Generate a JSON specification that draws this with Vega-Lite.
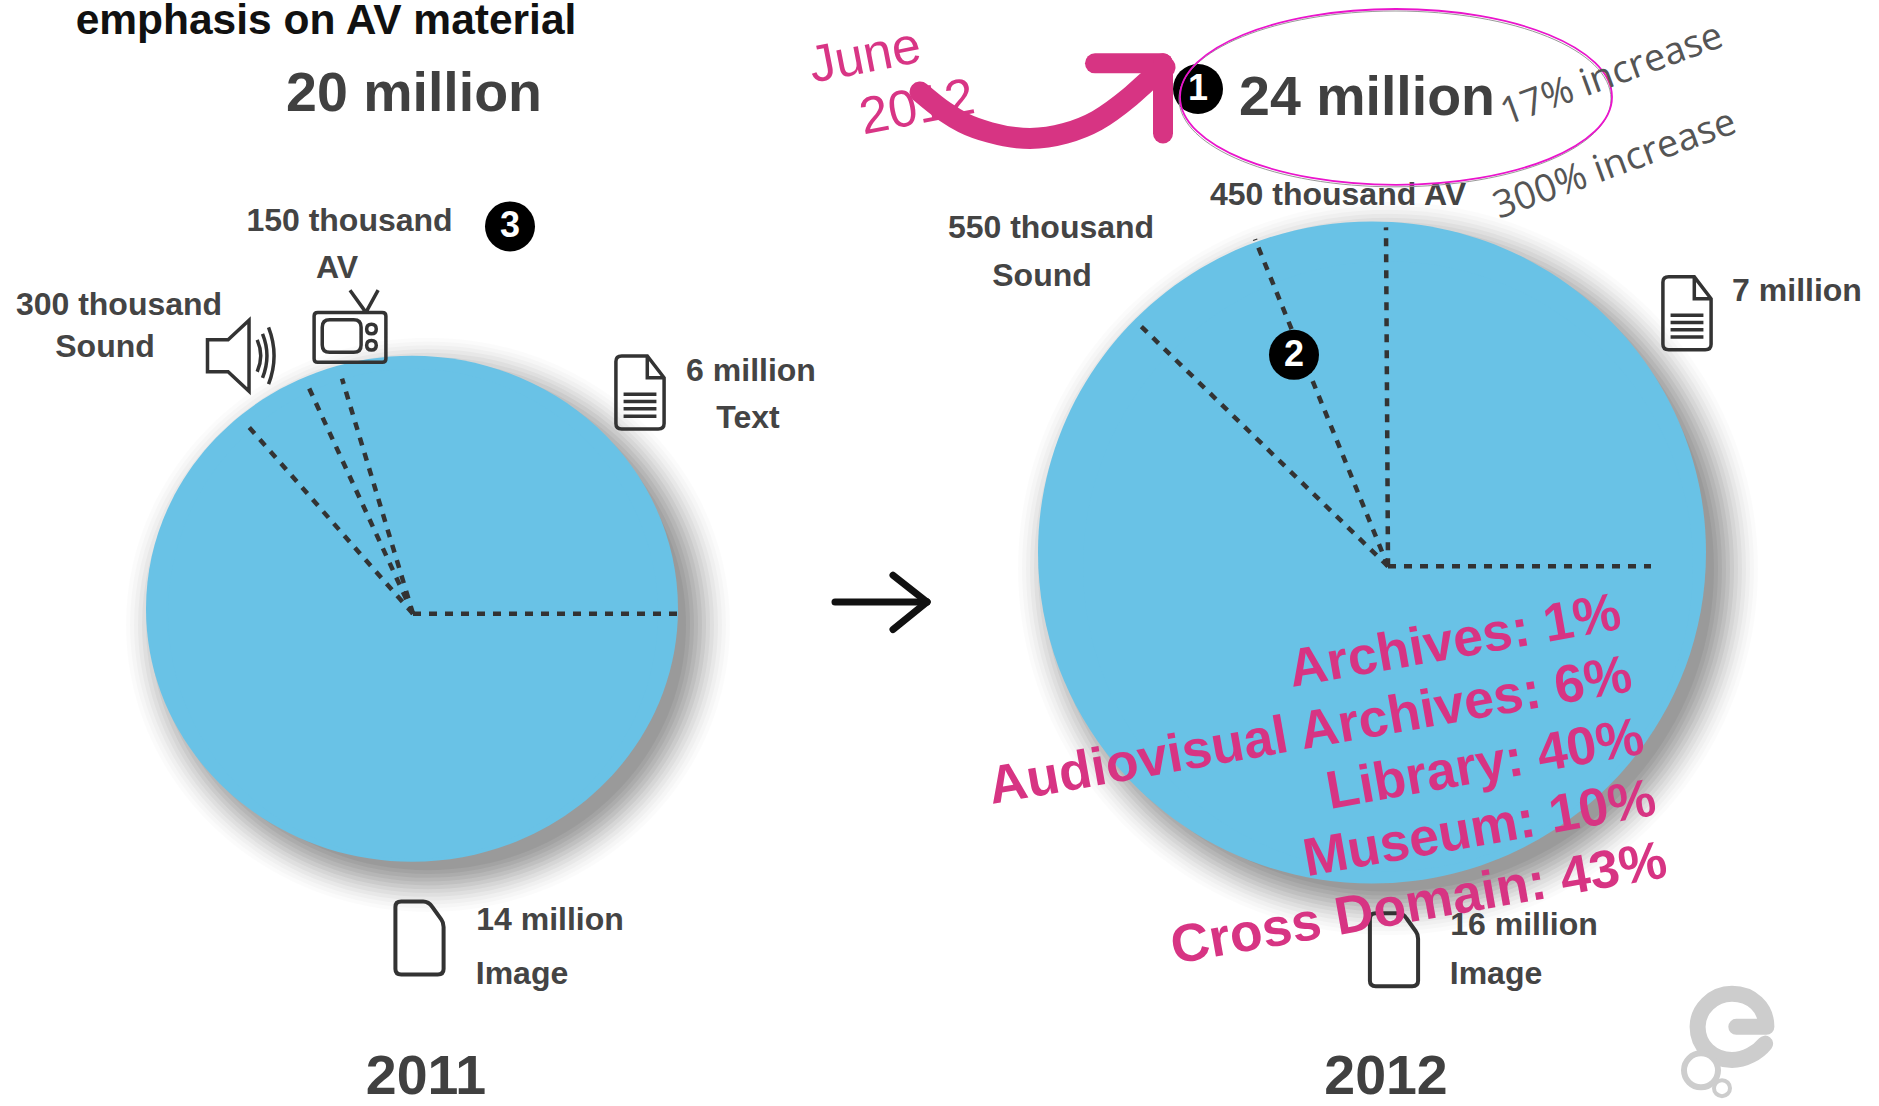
{"$schema":"https://vega.github.io/schema/vega-lite/v6.json","width":1879,"height":1106,"padding":0,"autosize":{"type":"fit","contains":"padding"},"background":"white","config":{"view":{"stroke":null}},
"datasets":{
"pies":[{"year":2011,"x":412,"y":610},{"year":2012,"x":1372,"y":553}],
"slices":[
{"year":2011,"segment":"Text","x":413,"y":615,"start":-16.6,"end":90},{"year":2011,"segment":"Image","x":413,"y":615,"start":90,"end":319},{"year":2011,"segment":"Sound","x":413,"y":615,"start":319,"end":335.5},{"year":2011,"segment":"AV","x":413,"y":615,"start":335.5,"end":343.4},
{"year":2012,"segment":"Text","x":1388,"y":567,"start":0,"end":90},{"year":2012,"segment":"Image","x":1388,"y":567,"start":90,"end":314.5},{"year":2012,"segment":"Sound","x":1388,"y":567,"start":314.5,"end":338.1},{"year":2012,"segment":"AV","x":1388,"y":567,"start":338.1,"end":360}],
"dashes":[
{"x":413,"y":615,"xe":677,"ye":615},{"x":413,"y":615,"xe":342,"ye":377},{"x":413,"y":615,"xe":306,"ye":380},{"x":413,"y":615,"xe":248,"ye":425},
{"x":1388,"y":567,"xe":1651,"ye":567},{"x":1388,"y":567,"xe":1386,"ye":224},{"x":1388,"y":567,"xe":1255,"ye":236},{"x":1388,"y":567,"xe":1141,"ye":324}],
"title":[{"t":"emphasis on AV material","x":326,"y":28}],
"big":[{"t":"20 million","x":414,"y":106},{"t":"24 million","x":1367,"y":110},{"t":"2011","x":426,"y":1101},{"t":"2012","x":1386,"y":1101}],
"labels":[{"t":"150 thousand","x":349.5,"y":228},{"t":"AV","x":337,"y":275},{"t":"300 thousand","x":119,"y":313},{"t":"Sound","x":105,"y":355},{"t":"6 million","x":751,"y":379},{"t":"Text","x":748,"y":427},{"t":"14 million","x":550,"y":935},{"t":"Image","x":522,"y":990},{"t":"450 thousand AV","x":1338,"y":201},{"t":"550 thousand","x":1051,"y":235},{"t":"Sound","x":1042,"y":283},{"t":"7 million","x":1797,"y":299},{"t":"16 million","x":1524,"y":940},{"t":"Image","x":1496,"y":990}],
"badges":[{"t":"1","x":1198,"y":84},{"t":"2","x":1294,"y":353},{"t":"3","x":510,"y":223}],
"june":[{"t":"June","x":865,"y":51},{"t":"2012","x":917,"y":103}],
"increase":[{"t":"17% increase","x":1612,"y":70},{"t":"300% increase","x":1615,"y":161}],
"shares":[{"t":"Archives: 1%","x":1623,"y":630},{"t":"Audiovisual Archives: 6%","x":1634,"y":693},{"t":"Library: 40%","x":1646,"y":756},{"t":"Museum: 10%","x":1658,"y":818},{"t":"Cross Domain: 43%","x":1669,"y":881}],
"pinkcurve":[{"x":920,"y":87},{"x":945,"y":107},{"x":963,"y":118},{"x":990,"y":128},{"x":1030,"y":134},{"x":1065,"y":129},{"x":1097,"y":116},{"x":1130,"y":92},{"x":1150,"y":74},{"x":1165,"y":62}],
"pinkhead":[{"x":1095,"y":58,"xe":1163,"ye":58},{"x":1163,"y":58,"xe":1163,"ye":129}],
"blackarrow":[{"x":835,"y":603,"xe":927,"ye":603},{"x":893,"y":576,"xe":927,"ye":603},{"x":893,"y":631,"xe":927,"ye":603}],
"ring":[{"x":1396,"y":92}],
"textdocs":[{"x":640,"y":391},{"x":1687,"y":311}],
"imagedocs":[{"x":419.5,"y":943},{"x":1394,"y":955}],
"speaker":[{"x":243,"y":354}],"tv":[{"x":350,"y":325}],
"logo":[{"x":1732,"y":1033}],"bubble1":[{"x":1701,"y":1077}],"bubble2":[{"x":1722,"y":1095}]
},
"encoding":{"x":{"field":"x","type":"quantitative","axis":null,"scale":{"domain":[0,1879]}},"y":{"field":"y","type":"quantitative","axis":null,"scale":{"domain":[1106,0]}}},
"layer":[
{"data":{"name":"pies"},"transform":[{"filter":"datum.year==2011"}],"layer":[
{"mark":{"type":"point","filled":true,"color":"#000","opacity":0.015,"xOffset":16,"yOffset":16,"size":364816,"shape":"M-1,0C-1,-0.525,-0.552,-0.951,0,-0.951C0.552,-0.951,1,-0.525,1,0C1,0.525,0.552,0.951,0,0.951C-0.552,0.951,-1,0.525,-1,0Z"}},
{"mark":{"type":"point","filled":true,"color":"#000","opacity":0.02,"xOffset":16,"yOffset":16,"size":355216,"shape":"M-1,0C-1,-0.525,-0.552,-0.951,0,-0.951C0.552,-0.951,1,-0.525,1,0C1,0.525,0.552,0.951,0,0.951C-0.552,0.951,-1,0.525,-1,0Z"}},
{"mark":{"type":"point","filled":true,"color":"#000","opacity":0.025,"xOffset":16,"yOffset":16,"size":345744,"shape":"M-1,0C-1,-0.525,-0.552,-0.951,0,-0.951C0.552,-0.951,1,-0.525,1,0C1,0.525,0.552,0.951,0,0.951C-0.552,0.951,-1,0.525,-1,0Z"}},
{"mark":{"type":"point","filled":true,"color":"#000","opacity":0.03,"xOffset":16,"yOffset":16,"size":336400,"shape":"M-1,0C-1,-0.525,-0.552,-0.951,0,-0.951C0.552,-0.951,1,-0.525,1,0C1,0.525,0.552,0.951,0,0.951C-0.552,0.951,-1,0.525,-1,0Z"}},
{"mark":{"type":"point","filled":true,"color":"#000","opacity":0.035,"xOffset":16,"yOffset":16,"size":327184,"shape":"M-1,0C-1,-0.525,-0.552,-0.951,0,-0.951C0.552,-0.951,1,-0.525,1,0C1,0.525,0.552,0.951,0,0.951C-0.552,0.951,-1,0.525,-1,0Z"}},
{"mark":{"type":"point","filled":true,"color":"#000","opacity":0.04,"xOffset":16,"yOffset":16,"size":318096,"shape":"M-1,0C-1,-0.525,-0.552,-0.951,0,-0.951C0.552,-0.951,1,-0.525,1,0C1,0.525,0.552,0.951,0,0.951C-0.552,0.951,-1,0.525,-1,0Z"}},
{"mark":{"type":"point","filled":true,"color":"#000","opacity":0.05,"xOffset":16,"yOffset":16,"size":309136,"shape":"M-1,0C-1,-0.525,-0.552,-0.951,0,-0.951C0.552,-0.951,1,-0.525,1,0C1,0.525,0.552,0.951,0,0.951C-0.552,0.951,-1,0.525,-1,0Z"}},
{"mark":{"type":"point","filled":true,"color":"#000","opacity":0.05,"xOffset":16,"yOffset":16,"size":300304,"shape":"M-1,0C-1,-0.525,-0.552,-0.951,0,-0.951C0.552,-0.951,1,-0.525,1,0C1,0.525,0.552,0.951,0,0.951C-0.552,0.951,-1,0.525,-1,0Z"}},
{"mark":{"type":"point","filled":true,"color":"#000","opacity":0.05,"xOffset":16,"yOffset":16,"size":291600,"shape":"M-1,0C-1,-0.525,-0.552,-0.951,0,-0.951C0.552,-0.951,1,-0.525,1,0C1,0.525,0.552,0.951,0,0.951C-0.552,0.951,-1,0.525,-1,0Z"}},
{"mark":{"type":"point","filled":true,"color":"#000","opacity":0.05,"xOffset":16,"yOffset":16,"size":283024,"shape":"M-1,0C-1,-0.525,-0.552,-0.951,0,-0.951C0.552,-0.951,1,-0.525,1,0C1,0.525,0.552,0.951,0,0.951C-0.552,0.951,-1,0.525,-1,0Z"}},
{"mark":{"type":"point","filled":true,"color":"#000","opacity":0.05,"xOffset":16,"yOffset":16,"size":274576,"shape":"M-1,0C-1,-0.525,-0.552,-0.951,0,-0.951C0.552,-0.951,1,-0.525,1,0C1,0.525,0.552,0.951,0,0.951C-0.552,0.951,-1,0.525,-1,0Z"}},
{"mark":{"type":"point","filled":true,"color":"#000","opacity":0.05,"xOffset":16,"yOffset":16,"size":266256,"shape":"M-1,0C-1,-0.525,-0.552,-0.951,0,-0.951C0.552,-0.951,1,-0.525,1,0C1,0.525,0.552,0.951,0,0.951C-0.552,0.951,-1,0.525,-1,0Z"}},
{"mark":{"type":"point","filled":true,"color":"#69c2e6","opacity":1,"size":283024,"shape":"M-1,0C-1,-0.525,-0.552,-0.951,0,-0.951C0.552,-0.951,1,-0.525,1,0C1,0.525,0.552,0.951,0,0.951C-0.552,0.951,-1,0.525,-1,0Z"}}
]},
{"data":{"name":"pies"},"transform":[{"filter":"datum.year==2012"}],"layer":[
{"mark":{"type":"point","filled":true,"color":"#000","opacity":0.015,"xOffset":16,"yOffset":16,"size":547600,"shape":"M-1,0C-1,-0.547,-0.552,-0.991,0,-0.991C0.552,-0.991,1,-0.547,1,0C1,0.547,0.552,0.991,0,0.991C-0.552,0.991,-1,0.547,-1,0Z"}},
{"mark":{"type":"point","filled":true,"color":"#000","opacity":0.02,"xOffset":16,"yOffset":16,"size":535824,"shape":"M-1,0C-1,-0.547,-0.552,-0.991,0,-0.991C0.552,-0.991,1,-0.547,1,0C1,0.547,0.552,0.991,0,0.991C-0.552,0.991,-1,0.547,-1,0Z"}},
{"mark":{"type":"point","filled":true,"color":"#000","opacity":0.025,"xOffset":16,"yOffset":16,"size":524176,"shape":"M-1,0C-1,-0.547,-0.552,-0.991,0,-0.991C0.552,-0.991,1,-0.547,1,0C1,0.547,0.552,0.991,0,0.991C-0.552,0.991,-1,0.547,-1,0Z"}},
{"mark":{"type":"point","filled":true,"color":"#000","opacity":0.03,"xOffset":16,"yOffset":16,"size":512656,"shape":"M-1,0C-1,-0.547,-0.552,-0.991,0,-0.991C0.552,-0.991,1,-0.547,1,0C1,0.547,0.552,0.991,0,0.991C-0.552,0.991,-1,0.547,-1,0Z"}},
{"mark":{"type":"point","filled":true,"color":"#000","opacity":0.035,"xOffset":16,"yOffset":16,"size":501264,"shape":"M-1,0C-1,-0.547,-0.552,-0.991,0,-0.991C0.552,-0.991,1,-0.547,1,0C1,0.547,0.552,0.991,0,0.991C-0.552,0.991,-1,0.547,-1,0Z"}},
{"mark":{"type":"point","filled":true,"color":"#000","opacity":0.04,"xOffset":16,"yOffset":16,"size":490000,"shape":"M-1,0C-1,-0.547,-0.552,-0.991,0,-0.991C0.552,-0.991,1,-0.547,1,0C1,0.547,0.552,0.991,0,0.991C-0.552,0.991,-1,0.547,-1,0Z"}},
{"mark":{"type":"point","filled":true,"color":"#000","opacity":0.05,"xOffset":16,"yOffset":16,"size":478864,"shape":"M-1,0C-1,-0.547,-0.552,-0.991,0,-0.991C0.552,-0.991,1,-0.547,1,0C1,0.547,0.552,0.991,0,0.991C-0.552,0.991,-1,0.547,-1,0Z"}},
{"mark":{"type":"point","filled":true,"color":"#000","opacity":0.05,"xOffset":16,"yOffset":16,"size":467856,"shape":"M-1,0C-1,-0.547,-0.552,-0.991,0,-0.991C0.552,-0.991,1,-0.547,1,0C1,0.547,0.552,0.991,0,0.991C-0.552,0.991,-1,0.547,-1,0Z"}},
{"mark":{"type":"point","filled":true,"color":"#000","opacity":0.05,"xOffset":16,"yOffset":16,"size":456976,"shape":"M-1,0C-1,-0.547,-0.552,-0.991,0,-0.991C0.552,-0.991,1,-0.547,1,0C1,0.547,0.552,0.991,0,0.991C-0.552,0.991,-1,0.547,-1,0Z"}},
{"mark":{"type":"point","filled":true,"color":"#000","opacity":0.05,"xOffset":16,"yOffset":16,"size":446224,"shape":"M-1,0C-1,-0.547,-0.552,-0.991,0,-0.991C0.552,-0.991,1,-0.547,1,0C1,0.547,0.552,0.991,0,0.991C-0.552,0.991,-1,0.547,-1,0Z"}},
{"mark":{"type":"point","filled":true,"color":"#000","opacity":0.05,"xOffset":16,"yOffset":16,"size":435600,"shape":"M-1,0C-1,-0.547,-0.552,-0.991,0,-0.991C0.552,-0.991,1,-0.547,1,0C1,0.547,0.552,0.991,0,0.991C-0.552,0.991,-1,0.547,-1,0Z"}},
{"mark":{"type":"point","filled":true,"color":"#000","opacity":0.05,"xOffset":16,"yOffset":16,"size":425104,"shape":"M-1,0C-1,-0.547,-0.552,-0.991,0,-0.991C0.552,-0.991,1,-0.547,1,0C1,0.547,0.552,0.991,0,0.991C-0.552,0.991,-1,0.547,-1,0Z"}},
{"mark":{"type":"point","filled":true,"color":"#69c2e6","opacity":1,"size":446224,"shape":"M-1,0C-1,-0.547,-0.552,-0.991,0,-0.991C0.552,-0.991,1,-0.547,1,0C1,0.547,0.552,0.991,0,0.991C-0.552,0.991,-1,0.547,-1,0Z"}}
]},
{"data":{"name":"slices"},"transform":[{"filter":"datum.year==2011"}],"mark":{"type":"arc","radius":245,"color":"#69c2e6"},"encoding":{"theta":{"field":"start","type":"quantitative","scale":{"domain":[0,360],"range":[0,6.28318]}},"theta2":{"field":"end"}}},
{"data":{"name":"slices"},"transform":[{"filter":"datum.year==2012"}],"mark":{"type":"arc","radius":305,"color":"#69c2e6"},"encoding":{"theta":{"field":"start","type":"quantitative","scale":{"domain":[0,360],"range":[0,6.28318]}},"theta2":{"field":"end"}}},
{"data":{"name":"dashes"},"mark":{"type":"rule","color":"#333333","strokeWidth":4.5,"strokeDash":[8,8]},"encoding":{"x2":{"field":"xe"},"y2":{"field":"ye"}}},
{"data":{"name":"title"},"mark":{"type":"text","font":"Liberation Sans","fontWeight":"bold","fontSize":42.5,"color":"#111111","baseline":"alphabetic","align":"center"},"encoding":{"text":{"field":"t"}}},
{"data":{"name":"big"},"mark":{"type":"text","font":"Liberation Sans","fontWeight":"bold","fontSize":55.5,"color":"#404040","baseline":"alphabetic","align":"center"},"encoding":{"text":{"field":"t"}}},
{"data":{"name":"labels"},"mark":{"type":"text","font":"Liberation Sans","fontWeight":"bold","fontSize":32,"color":"#444444","baseline":"alphabetic","align":"center"},"encoding":{"text":{"field":"t"}}},
{"data":{"name":"textdocs"},"mark":{"type":"point","filled":false,"color":"#333333","strokeWidth":3.5,"opacity":1,"size":5329,"shape":"M-0.66,-0.85Q-0.66,-1,-0.5,-1L0.2,-1L0.66,-0.4L0.66,0.85Q0.66,1,0.5,1L-0.5,1Q-0.66,1,-0.66,0.85ZM0.2,-1L0.2,-0.4L0.66,-0.4M-0.45,0.05L0.45,0.05M-0.45,0.25L0.45,0.25M-0.45,0.45L0.45,0.45M-0.45,0.65L0.45,0.65"}},
{"data":{"name":"imagedocs"},"mark":{"type":"point","filled":false,"color":"#333333","strokeWidth":4,"opacity":1,"size":5329,"shape":"M-0.66,-0.85Q-0.66,-1,-0.5,-1L0.1,-1Q0.25,-1,0.35,-0.85L0.6,-0.5Q0.66,-0.42,0.66,-0.3L0.66,0.85Q0.66,1,0.5,1L-0.5,1Q-0.66,1,-0.66,0.85Z"}},
{"data":{"name":"speaker"},"mark":{"type":"point","filled":false,"color":"#333333","strokeWidth":3.5,"opacity":1,"size":5041,"shape":"M-1,-0.45L-0.42,-0.45L0.17,-1L0.17,1L-0.42,0.45L-1,0.45ZM0.4,-0.45Q0.6,0,0.4,0.45M0.55,-0.62Q0.8,0,0.55,0.62M0.72,-0.8Q1.03,0,0.72,0.8"}},
{"data":{"name":"tv"},"mark":{"type":"point","filled":false,"color":"#333333","strokeWidth":3.5,"opacity":1,"size":5476,"shape":"M-0.97,-0.3Q-0.97,-0.4,-0.87,-0.4L0.87,-0.4Q0.97,-0.4,0.97,-0.3L0.97,0.85Q0.97,0.95,0.87,0.95L-0.87,0.95Q-0.97,0.95,-0.97,0.85ZM-0.55,-0.2L0.1,-0.2Q0.3,-0.2,0.3,0L0.3,0.48Q0.3,0.68,0.1,0.68L-0.55,0.68Q-0.75,0.68,-0.75,0.48L-0.75,0Q-0.75,-0.2,-0.55,-0.2ZM0.43,-0.4L0,-1M0.43,-0.4L0.76,-1M0.45,0.05Q0.45,-0.08,0.58,-0.08Q0.71,-0.08,0.71,0.05Q0.71,0.18,0.58,0.18Q0.45,0.18,0.45,0.05ZM0.45,0.49Q0.45,0.36,0.58,0.36Q0.71,0.36,0.71,0.49Q0.71,0.62,0.58,0.62Q0.45,0.62,0.45,0.49Z"}},
{"data":{"name":"logo"},"mark":{"type":"point","filled":false,"color":"#cdcdcd","strokeWidth":16,"strokeCap":"round","opacity":1,"size":7396,"shape":"M0.8,0L0.1,0M0.8,0C0.8,-0.45,0.45,-0.77,0,-0.77C-0.45,-0.77,-0.8,-0.4,-0.8,0C-0.8,0.45,-0.45,0.77,0,0.77C0.3,0.77,0.6,0.6,0.77,0.39"}},
{"data":{"name":"bubble1"},"mark":{"type":"point","shape":"circle","filled":true,"fill":"#ffffff","stroke":"#cdcdcd","strokeWidth":6,"opacity":1,"size":1156}},
{"data":{"name":"bubble2"},"mark":{"type":"point","shape":"circle","filled":true,"fill":"#ffffff","stroke":"#cdcdcd","strokeWidth":4,"opacity":1,"size":256}},
{"data":{"name":"blackarrow"},"mark":{"type":"rule","color":"#111111","strokeWidth":7,"strokeCap":"round"},"encoding":{"x2":{"field":"xe"},"y2":{"field":"ye"}}},
{"data":{"name":"badges"},"layer":[
{"mark":{"type":"point","shape":"circle","filled":true,"color":"#000000","opacity":1,"size":2500}},
{"mark":{"type":"text","font":"Liberation Sans","fontWeight":"bold","fontSize":36,"color":"#ffffff","baseline":"middle","align":"center"},"encoding":{"text":{"field":"t"}}}]},
{"data":{"name":"ring"},"layer":[
{"mark":{"type":"point","filled":false,"color":"#999999","strokeWidth":1,"opacity":1,"xOffset":-1,"yOffset":2,"size":186624,"shape":"M-1,0C-1,-0.225,-0.552,-0.407,0,-0.407C0.552,-0.407,1,-0.225,1,0C1,0.225,0.552,0.407,0,0.407C-0.552,0.407,-1,0.225,-1,0Z"}},
{"mark":{"type":"point","filled":false,"color":"#ea14cc","strokeWidth":1.8,"opacity":1,"size":186624,"shape":"M-1,0C-1,-0.225,-0.552,-0.407,0,-0.407C0.552,-0.407,1,-0.225,1,0C1,0.225,0.552,0.407,0,0.407C-0.552,0.407,-1,0.225,-1,0Z"}}]},
{"data":{"name":"increase"},"mark":{"type":"text","font":"Open Sans","fontSize":38,"color":"#555555","angle":-20,"baseline":"middle","align":"center"},"encoding":{"text":{"field":"t"}}},
{"data":{"name":"june"},"mark":{"type":"text","font":"Liberation Sans","fontSize":52,"color":"#d83585","angle":-11,"baseline":"middle","align":"center"},"encoding":{"text":{"field":"t"}}},
{"data":{"name":"pinkcurve"},"mark":{"type":"line","color":"#d73483","strokeWidth":21,"interpolate":"monotone","strokeCap":"round"}},
{"data":{"name":"pinkhead"},"mark":{"type":"rule","color":"#d73483","strokeWidth":20,"strokeCap":"round"},"encoding":{"x2":{"field":"xe"},"y2":{"field":"ye"}}},
{"data":{"name":"shares"},"mark":{"type":"text","font":"Liberation Sans","fontWeight":"bold","fontSize":53.5,"color":"#d73483","angle":-10,"baseline":"alphabetic","align":"right"},"encoding":{"text":{"field":"t"}}}
]}
